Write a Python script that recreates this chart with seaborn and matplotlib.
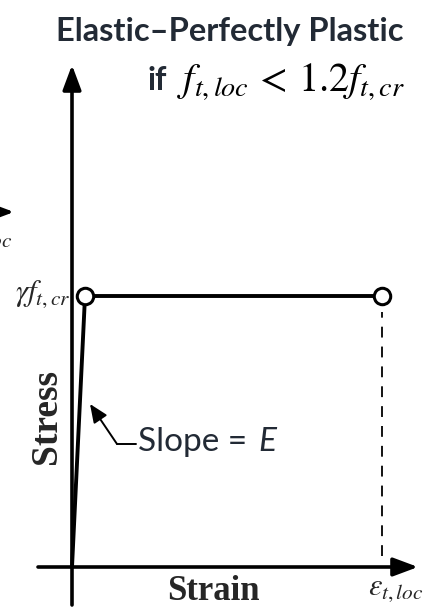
import matplotlib
matplotlib.use("Agg")
import matplotlib.pyplot as plt
import seaborn as sns
import pandas as pd

sns.set_theme(style="white")
plt.rcParams['mathtext.fontset'] = 'stix'
plt.rcParams['font.family'] = ['DejaVu Sans']

# Elastic - perfectly plastic law (normalised: eps_loc = 1, gamma*f_cr = 1)
strain = [0.0, 0.042, 1.0]
stress = [0.0, 1.0, 1.0]
open_pts = [1, 2]  # points drawn as open circles

title = "Elastic\u2013Perfectly Plastic"
condition = r"$f_{t,loc}\,<\,1.2f_{t,cr}$"
ylab = "Stress"
xlab = "Strain"
yield_lab = r"$\gamma f_{t,cr}$"
eps_lab = r"$\varepsilon_{t,loc}$"
slope_lab = "Slope = "

W, H = 428, 611
fig = plt.figure(figsize=(W / 100, H / 100), dpi=100)
ax = fig.add_axes([0, 0, 1, 1])
# origin sits at pixel (72, 567); eps_loc at x=382 px, plateau at y=296 px
sx, sy = 310.0, 271.0
ax.set_xlim(-72 / sx, (W - 72) / sx)
ax.set_ylim(-(H - 567) / sy, 567 / sy)
ax.axis("off")

def fx(px):
    return px / W

def fy(py):
    return 1 - py / H

# axes with arrows
arrow = dict(arrowstyle="-|>,head_length=0.75,head_width=0.28", lw=2.6,
             color="black", mutation_scale=20, shrinkA=0, shrinkB=0)
ax.annotate("", xy=(0, (567 - 65) / sy), xytext=(0, -(605 - 567) / sy), arrowprops=arrow)
ax.annotate("", xy=((418 - 72) / sx, 0), xytext=((38 - 72) / sx, 0), arrowprops=arrow)

df = pd.DataFrame({"strain": strain, "stress": stress})
sns.lineplot(data=df, x="strain", y="stress", sort=False, color="black",
             lw=2.8, ax=ax, zorder=3)
ax.plot([strain[-1], strain[-1]], [0.04, stress[-1] - 0.06], color="black",
        lw=1.3, dashes=(6, 5), zorder=2)
sns.scatterplot(data=df.iloc[open_pts], x="strain", y="stress", s=140,
                facecolor="white", edgecolor="black", linewidth=2.2, ax=ax, zorder=4)
ax.set_xlabel("")
ax.set_ylabel("")

txt = "#222a35"
fig.text(fx(230), fy(31), title, ha="center", va="center", family="Lato",
         fontweight="bold", fontsize=23.5, color=txt)
fig.text(fx(167), fy(80), "if", ha="right", va="center", family="Lato",
         fontweight="bold", fontsize=23, color=txt)
fig.text(fx(405), fy(82), condition, ha="right", va="center", fontsize=29, color="black")

fig.text(fx(47), fy(416), ylab, ha="center", va="center", rotation=90,
         family="Liberation Serif", fontweight="bold", fontsize=27)
fig.text(fx(213), fy(591), xlab, ha="center", va="center",
         family="Liberation Serif", fontweight="bold", fontsize=25)
fig.text(fx(396), fy(590), eps_lab, ha="center", va="center", fontsize=22)
fig.text(fx(43), fy(294), yield_lab, ha="center", va="center", fontsize=22)

fig.text(fx(138), fy(442), slope_lab, ha="left", va="center",
         family="Lato", fontsize=24, color=txt)
fig.text(fx(276), fy(442), "E", ha="right", va="center",
         family="Lato", style="italic", fontsize=24, color=txt)
ax.plot([(117 - 72) / sx, (136 - 72) / sx], [(567 - 444) / sy] * 2, color="black", lw=1.4)
ax.annotate("", xy=((90 - 72) / sx, (567 - 404) / sy),
            xytext=((117 - 72) / sx, (567 - 444) / sy),
            arrowprops=dict(arrowstyle="-|>,head_length=0.7,head_width=0.3", lw=1.4,
                            color="black", mutation_scale=16, shrinkA=0, shrinkB=0))

# piece of the neighbouring panel cut off at the left edge
fig.text(fx(13), fy(238), eps_lab, ha="right", va="center", fontsize=22)
ax.annotate("", xy=((14 - 72) / sx, (567 - 212) / sy),
            xytext=((-40 - 72) / sx, (567 - 212) / sy), arrowprops=arrow)

fig.savefig("out.png", dpi=100)
